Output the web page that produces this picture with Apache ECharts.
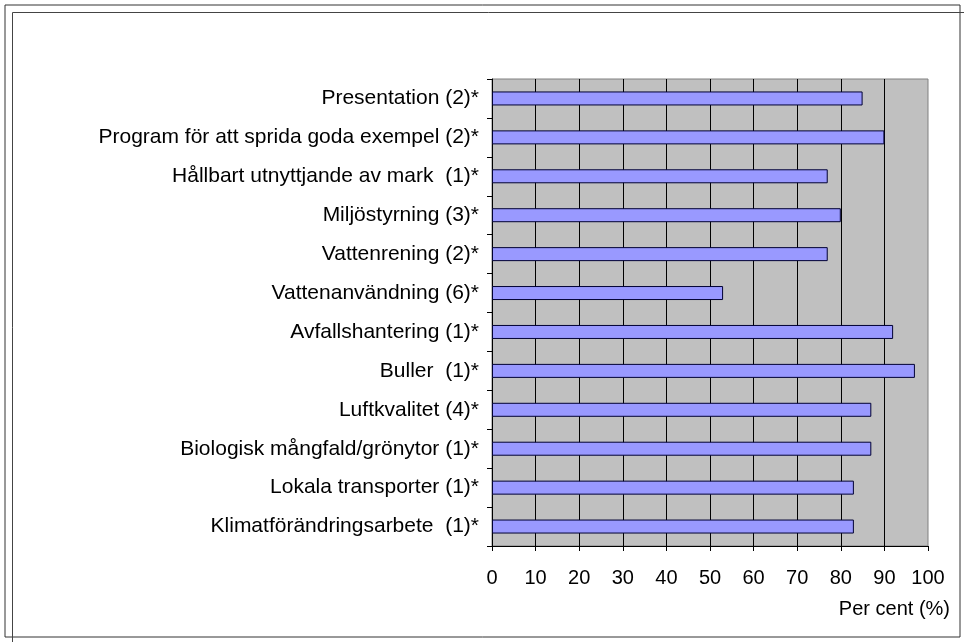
<!DOCTYPE html>
<html>
<head>
<meta charset="utf-8">
<script src="https://cdn.jsdelivr.net/npm/echarts@6/dist/echarts.min.js"></script>
<style>
html,body{margin:0;padding:0;background:#fff;}
#chart{width:964px;height:642px;}
</style>
</head>
<body>
<div id="chart"></div>
<script>
const categories = [
  'Presentation (2)*',
  'Program för att sprida goda exempel (2)*',
  'Hållbart utnyttjande av mark  (1)*',
  'Miljöstyrning (3)*',
  'Vattenrening (2)*',
  'Vattenanvändning (6)*',
  'Avfallshantering (1)*',
  'Buller  (1)*',
  'Luftkvalitet (4)*',
  'Biologisk mångfald/grönytor (1)*',
  'Lokala transporter (1)*',
  'Klimatförändringsarbete  (1)*'
];
const values = [85, 90, 77, 80, 77, 53, 92, 97, 87, 87, 83, 83];
const xTicks = [0, 10, 20, 30, 40, 50, 60, 70, 80, 90, 100];
const xAxisName = 'Per cent (%)';

const chart = echarts.init(document.getElementById('chart'), null, {renderer: 'canvas'});
const font = 'Arial, "Liberation Sans", sans-serif';
chart.setOption({
  animation: false,
  backgroundColor: '#ffffff',
  textStyle: {fontFamily: font},
  graphic: [
    {type: 'rect', shape: {x: 5, y: 5, width: 955, height: 632}, style: {fill: 'none', stroke: '#333', lineWidth: 1}, silent: true, z: 0},
    {type: 'line', shape: {x1: 12.5, y1: 12.5, x2: 964, y2: 12.5}, style: {stroke: '#444', lineWidth: 1}, silent: true},
    {type: 'line', shape: {x1: 12.5, y1: 12.5, x2: 12.5, y2: 642}, style: {stroke: '#444', lineWidth: 1}, silent: true}
  ],
  grid: {
    left: 492, right: 36, top: 79, bottom: 96,
    show: true, backgroundColor: '#c0c0c0', borderColor: '#808080', borderWidth: 1
  },
  xAxis: {
    type: 'value',
    min: xTicks[0], max: xTicks[xTicks.length - 1], interval: 10,
    name: xAxisName,
    nameLocation: 'end',
    nameGap: 22,
    nameTextStyle: {color: '#000', fontSize: 20, fontFamily: font, align: 'right', verticalAlign: 'top', padding: [53, 0, 0, 0]},
    axisLine: {show: true, lineStyle: {color: '#000', width: 1}},
    axisTick: {show: true, length: 5, lineStyle: {color: '#000'}},
    axisLabel: {color: '#000', fontSize: 20, fontFamily: font, margin: 22},
    splitLine: {show: true, showMinLine: false, showMaxLine: false, lineStyle: {color: '#000', width: 1}}
  },
  yAxis: {
    type: 'category',
    data: categories,
    inverse: true,
    axisLine: {show: true, lineStyle: {color: '#000', width: 1}},
    axisTick: {show: true, length: 5, alignWithLabel: false, lineStyle: {color: '#000'}},
    axisLabel: {color: '#000', fontSize: 21, fontFamily: font, margin: 13},
    splitLine: {show: false}
  },
  series: [{
    type: 'bar',
    data: values,
    barWidth: 14,
    itemStyle: {color: '#9999ff', borderColor: '#000033', borderWidth: 1}
  }]
});
</script>
</body>
</html>
